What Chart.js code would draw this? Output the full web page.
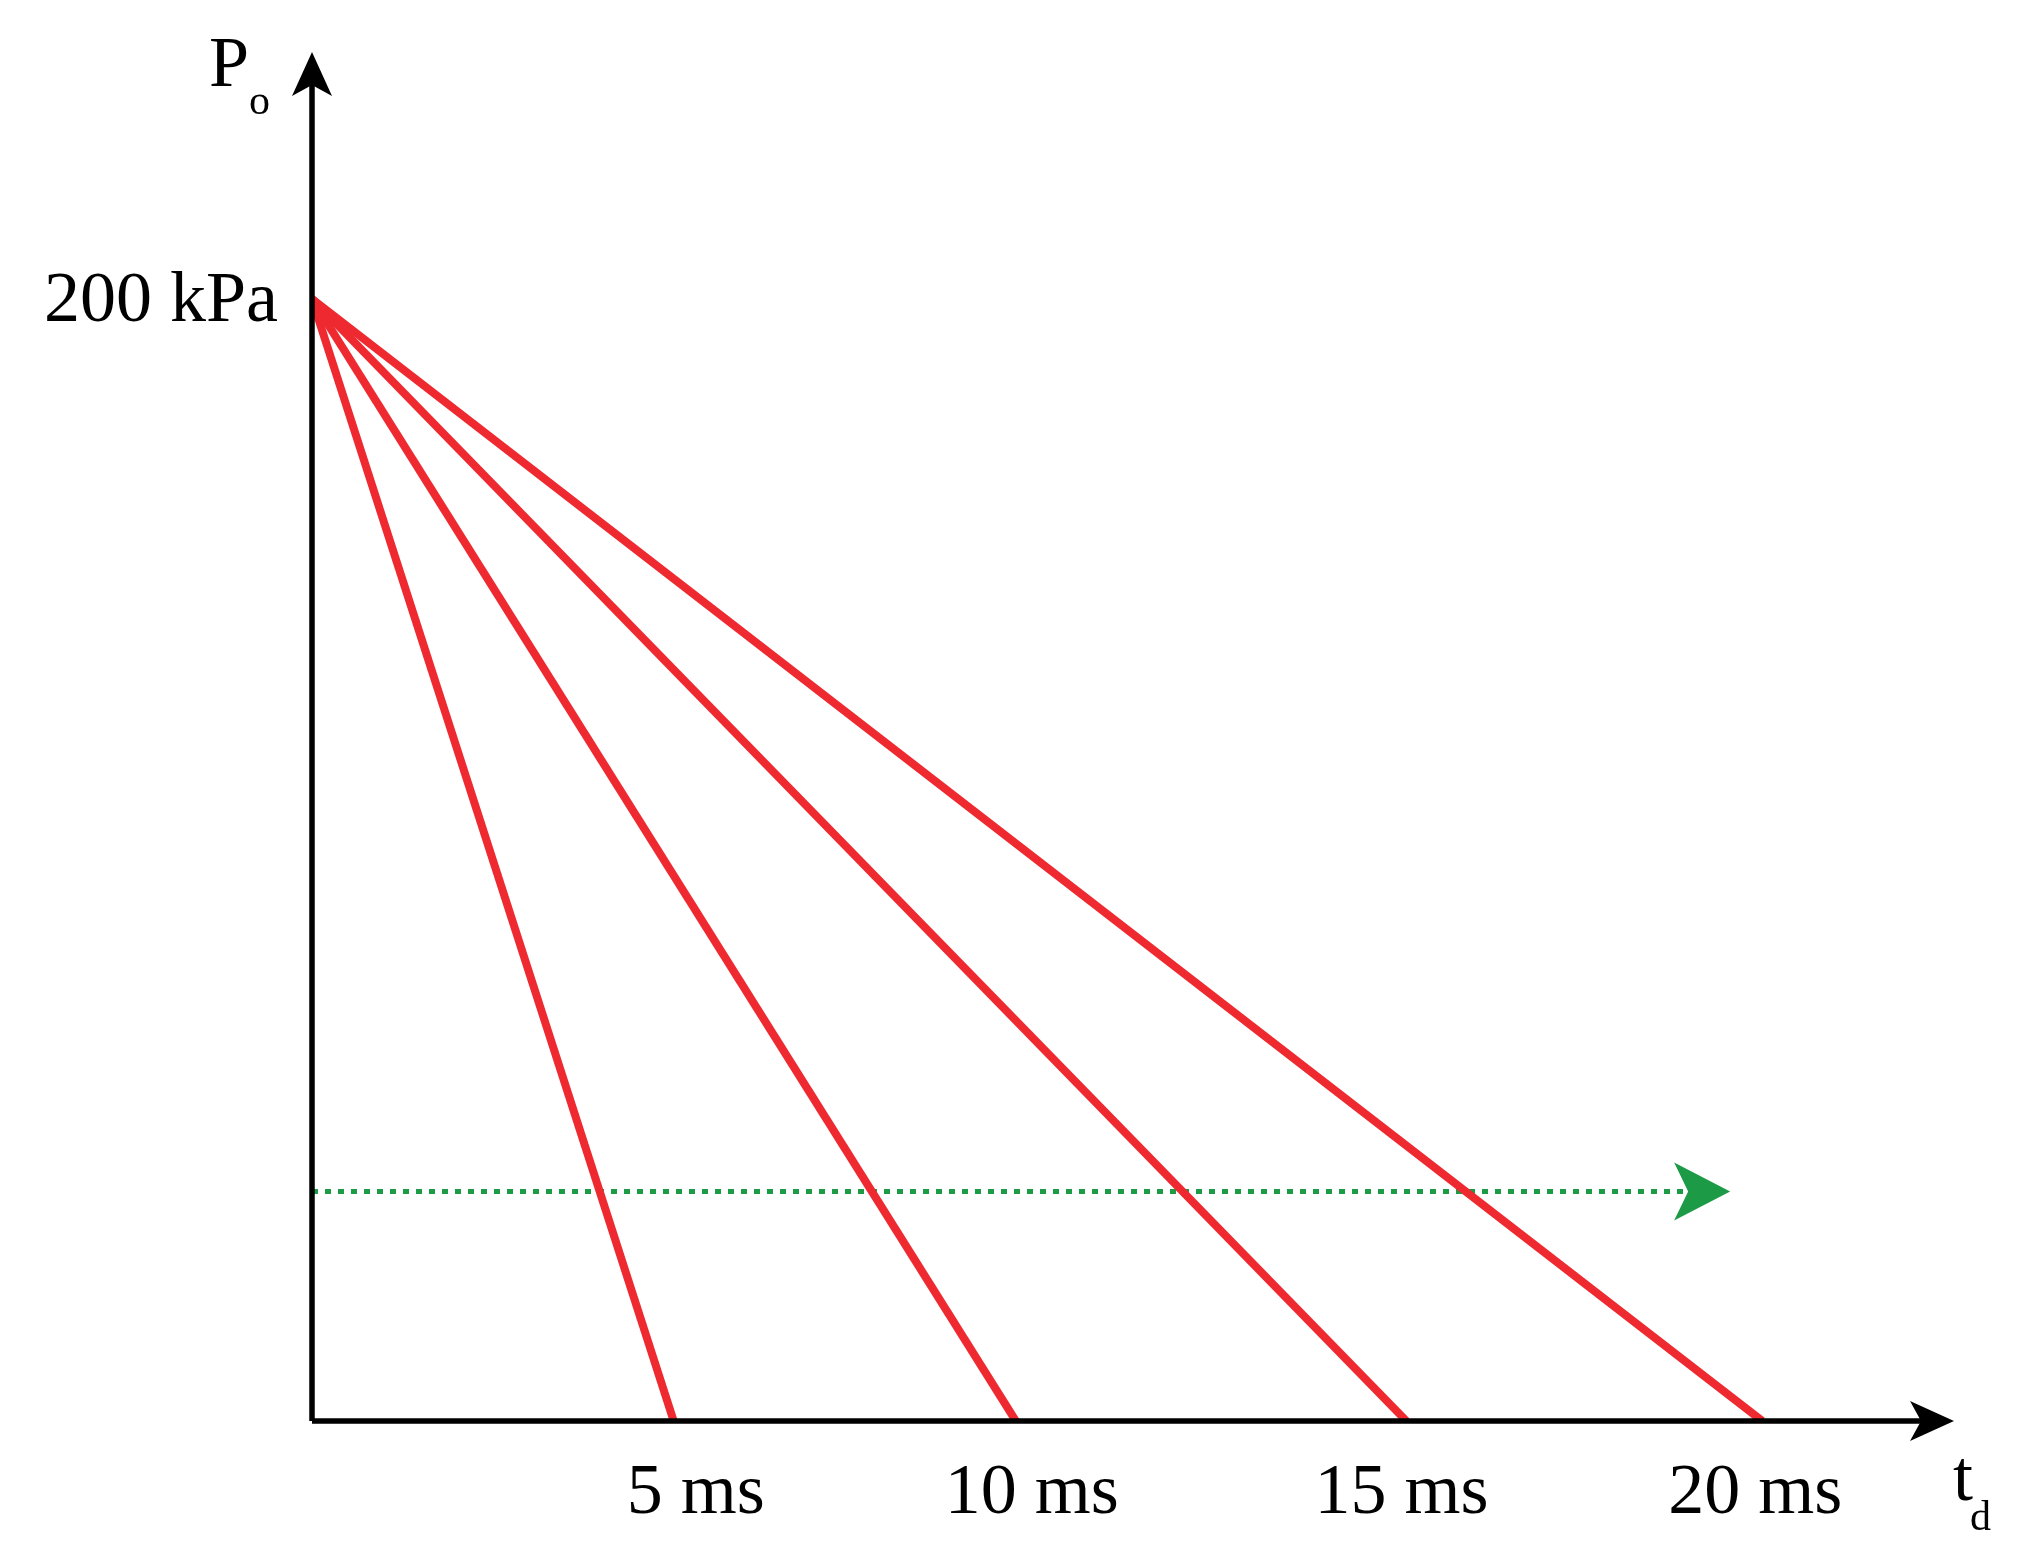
<!DOCTYPE html>
<html><head><meta charset="utf-8">
<script src="https://cdn.jsdelivr.net/npm/chart.js@4/dist/chart.umd.min.js"></script>
<style>html,body{margin:0;padding:0;background:#fff}#wrap{width:2028px;height:1557px}</style>
</head><body><div id="wrap"><canvas id="c"></canvas></div>
<script>
const peakPressure = 200;
const durations = [5, 9.73, 15.13, 20.05];
const durationLabels = ["5 ms", "10 ms", "15 ms", "20 ms"];
const peakLabel = "200 kPa";
const arrowLevel = [40.9, 40.9];
const arrowX = [0, 19.55];
const xMax = 22.7, yMax = 244;

const red = '#ee2a30', green = '#1c9a46';
const datasets = durations.map(d => ({
  data: [{x:0,y:peakPressure},{x:d,y:0}],
  borderColor: red, borderWidth: 8, pointRadius: 0, borderCapStyle:'butt'
}));
datasets.push({data: arrowX.map((x,i)=>({x, y: arrowLevel[i]})), borderColor: green, borderWidth: 5, borderDash:[6,7], pointRadius:0});

const font = '"Liberation Serif", "DejaVu Serif", serif';
const deco = {
  id:'deco',
  afterDatasetsDraw(chart){
    const {ctx, scales:{x,y}} = chart;
    const x0 = x.getPixelForValue(0), y0 = y.getPixelForValue(0);
    const xe = x.getPixelForValue(xMax), yt = y.getPixelForValue(yMax);
    ctx.save();
    ctx.strokeStyle='#000'; ctx.fillStyle='#000'; ctx.lineWidth=5.5;
    ctx.beginPath(); ctx.moveTo(x0, y0); ctx.lineTo(xe-20, y0); ctx.moveTo(x0,y0); ctx.lineTo(x0, yt+20); ctx.stroke();
    ctx.beginPath(); ctx.moveTo(xe, y0); ctx.lineTo(xe-44, y0-20); ctx.lineTo(xe-33, y0); ctx.lineTo(xe-44, y0+20); ctx.closePath(); ctx.fill();
    ctx.beginPath(); ctx.moveTo(x0, yt); ctx.lineTo(x0-20, yt+44); ctx.lineTo(x0, yt+33); ctx.lineTo(x0+20, yt+44); ctx.closePath(); ctx.fill();
    const gx = x.getPixelForValue(arrowX[1]), gy = y.getPixelForValue(arrowLevel[0]);
    ctx.fillStyle = green;
    ctx.beginPath(); ctx.moveTo(gx+4, gy); ctx.lineTo(gx-52, gy-29); ctx.lineTo(gx-38, gy); ctx.lineTo(gx-52, gy+29); ctx.closePath(); ctx.fill();
    ctx.fillStyle='#000';
    ctx.font = '72px ' + font; ctx.textBaseline='alphabetic';
    ctx.textAlign='right'; ctx.fillText(peakLabel, x0-34, y.getPixelForValue(peakPressure)+22);
    ctx.textAlign='center';
    durations.forEach((d,i)=>{ ctx.fillText(durationLabels[i], x.getPixelForValue(d)+[22,16,-5,-7][i], y0+92); });
    ctx.textAlign='left';
    ctx.fillText('P', 209, 86); ctx.font='42px '+font; ctx.fillText('o', 249, 114);
    ctx.font='72px '+font; ctx.fillText('t', 1953, 1500); ctx.font='42px '+font; ctx.fillText('d', 1970, 1530);
    ctx.restore();
  }
};

new Chart(document.getElementById('c'), {
  type:'line',
  data:{datasets},
  options:{
    responsive:true, maintainAspectRatio:false, animation:false,
    layout:{padding:{left:312,right:74,top:52,bottom:136}},
    plugins:{legend:{display:false},tooltip:{enabled:false}},
    scales:{
      x:{type:'linear',min:0,max:xMax,display:false},
      y:{type:'linear',min:0,max:yMax,display:false}
    }
  },
  plugins:[deco]
});
</script></body></html>
